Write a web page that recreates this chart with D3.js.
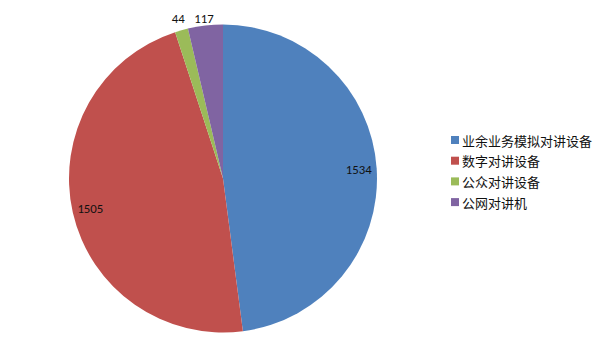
<!DOCTYPE html>
<html><head><meta charset="utf-8">
<script src="https://cdn.jsdelivr.net/npm/d3@7/dist/d3.min.js"></script>
<style>body{margin:0;background:#fff}svg{display:block}</style>
</head><body>
<svg id="c" width="605" height="340"></svg>
<script>
const categories = ["业余业务模拟对讲设备", "数字对讲设备", "公众对讲设备", "公网对讲机"];
const values = [1534, 1505, 44, 117];
const colors = ["#4F81BD", "#C0504D", "#9BBB59", "#8064A2"];

const svg = d3.select("#c");
const cx = 223, cy = 178.5, R = 154;
const g = svg.append("g").attr("transform", `translate(${cx},${cy})`);
const pie = d3.pie().sort(null).value(d => d)(values);
const arc = d3.arc().innerRadius(0).outerRadius(R);
g.selectAll("path").data(pie).enter().append("path")
  .attr("d", arc).attr("fill", (d, i) => colors[i]);

const inner = d3.arc().innerRadius(136).outerRadius(136);
const outer = d3.arc().innerRadius(R + 12).outerRadius(R + 12);
const lbl = g.selectAll("text.lbl").data(pie).enter().append("text")
  .attr("class", "lbl")
  .attr("transform", d => {
    const small = (d.endAngle - d.startAngle) < 0.3;
    let [x, y] = (small ? outer : inner).centroid(d);
    if (small) y = 18.5 - cy;
    return `translate(${x},${y})`;
  })
  .attr("text-anchor", "middle").attr("dominant-baseline", "central")
  .style("font-family", "Carlito, 'Liberation Sans', Arial, sans-serif")
  .style("font-size", "12px").attr("fill", "#111")
  .text(d => d.data);
// fit label size so "1534" is ~26px wide
const w0 = lbl.node().getComputedTextLength();
lbl.style("font-size", (12 * 26 / w0).toFixed(2) + "px");

const lg = svg.append("g").attr("transform", "translate(451,140)");
const rows = lg.selectAll("g").data(categories).enter().append("g")
  .attr("transform", (d, i) => `translate(0,${i * 20.7})`);
rows.append("rect").attr("x", 0).attr("y", -4).attr("width", 8).attr("height", 8)
  .attr("fill", (d, i) => colors[i]);
const lt = rows.append("text").attr("x", 11).attr("y", 0).attr("dominant-baseline", "central")
  .style("font-family", "'Noto Sans CJK SC', sans-serif").style("font-size", "14px")
  .attr("fill", "#111").text(d => d);
const w1 = lt.node().getComputedTextLength();
lt.style("font-size", (14 * 130 / w1).toFixed(2) + "px");
</script>
</body></html>
